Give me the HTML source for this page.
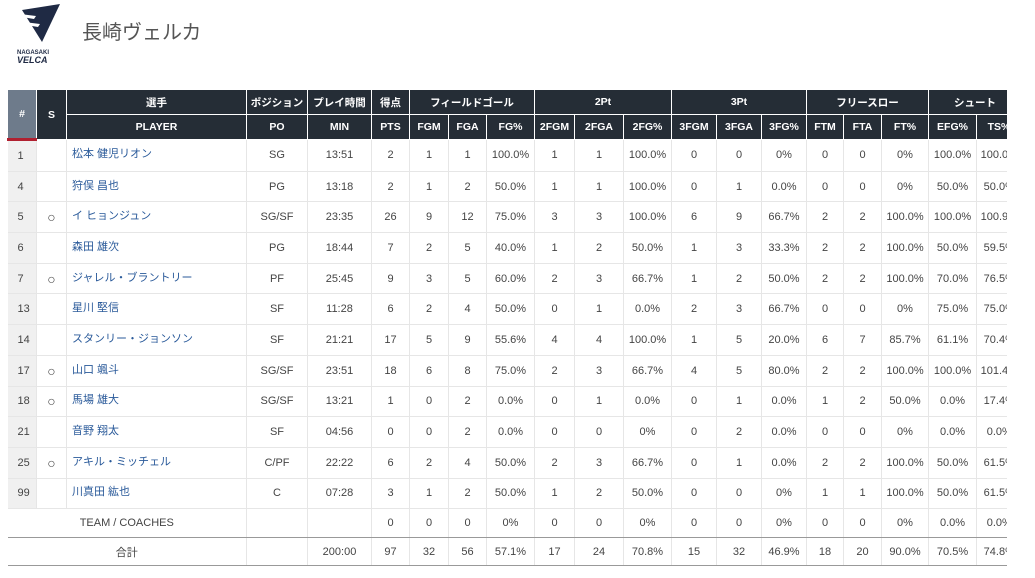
<!DOCTYPE html>
<html><head><meta charset="utf-8">
<style>
body{margin:0;width:1035px;height:578px;overflow:hidden;background:#fff;font-family:"Liberation Sans","Noto Sans CJK JP",sans-serif;position:relative}
#title{position:absolute;left:82px;top:16px;font-size:20px;color:#555;font-weight:normal;margin:0}
#logo{position:absolute;left:16px;top:4px}
#wrap{position:absolute;left:7px;top:90px;width:1000px;height:488px;overflow:hidden}
table{border-collapse:collapse;table-layout:fixed;font-size:11px;color:#444;width:1014px}
th{background:#252d36;color:#fff;font-weight:bold;font-size:10.5px;height:24px;padding:0;border:1px solid #fff;border-top:none;text-align:center;white-space:nowrap;overflow:hidden}
td{height:29.7px;padding:0;text-align:center;border-left:1px solid #e6e6e6;border-bottom:1px solid #e6e6e6;white-space:nowrap;overflow:hidden}
td.num{background:#f0f0f0;text-align:left;padding-left:10px;border-left:none}
td.name{text-align:left;padding-left:5px;color:#2a5a9a;padding-bottom:4px;height:25.7px}
td.st{font-size:14px}
th.hash{background:#6e7b8b;border-bottom:3px solid #b02030}
tr.foot td{border-bottom:1px solid #999;height:27.5px}
tr.first td{border-top:1px solid #999}
</style></head><body>
<svg id="logo" width="50" height="60" viewBox="0 0 50 60">
<path d="M6 6 L44 0 L26 38 Z" fill="#1f2a44"/>
<path d="M4 10 L20 12 L18 15 L6 13 Z M8 18 L24 20 L22 23 L10 21Z" fill="#fff"/>
<text x="1" y="50" font-size="6" font-weight="bold" fill="#1f2a44" font-family="Liberation Sans">NAGASAKI</text>
<text x="1" y="59" font-size="9" font-weight="bold" font-style="italic" fill="#1f2a44" font-family="Liberation Sans">VELCA</text>
</svg>
<h1 id="title">長崎ヴェルカ</h1>
<div id="wrap">
<table id="box">
<colgroup><col style="width:29px"><col style="width:30px"><col style="width:180px"><col style="width:61px"><col style="width:64px"><col style="width:38px"><col style="width:39px"><col style="width:38px"><col style="width:48px"><col style="width:40px"><col style="width:49px"><col style="width:48px"><col style="width:45px"><col style="width:45px"><col style="width:45px"><col style="width:37px"><col style="width:38px"><col style="width:47px"><col style="width:48px"><col style="width:45px"></colgroup>
<thead>
<tr><th rowspan="2" class="hash">#</th><th rowspan="2">S</th><th>選手</th><th>ポジション</th><th>プレイ時間</th><th>得点</th><th colspan="3">フィールドゴール</th><th colspan="3">2Pt</th><th colspan="3">3Pt</th><th colspan="3">フリースロー</th><th colspan="2">シュート</th></tr>
<tr id="hdr2"></tr>
</thead>
<tbody id="body"></tbody>
</table>
</div>
<script>
const cols=["PLAYER","PO","MIN","PTS","FGM","FGA","FG%","2FGM","2FGA","2FG%","3FGM","3FGA","3FG%","FTM","FTA","FT%","EFG%","TS%"];
const nums=["1","4","5","6","7","13","14","17","18","21","25","99"];
const starters=["","","○","","○","","","○","○","","○",""];
const names=["松本 健児リオン","狩俣 昌也","イ ヒョンジュン","森田 雄次","ジャレル・ブラントリー","星川 堅信","スタンリー・ジョンソン","山口 颯斗","馬場 雄大","音野 翔太","アキル・ミッチェル","川真田 紘也"];
const stats=[
["SG","13:51","2","1","1","100.0%","1","1","100.0%","0","0","0%","0","0","0%","100.0%","100.0%"],
["PG","13:18","2","1","2","50.0%","1","1","100.0%","0","1","0.0%","0","0","0%","50.0%","50.0%"],
["SG/SF","23:35","26","9","12","75.0%","3","3","100.0%","6","9","66.7%","2","2","100.0%","100.0%","100.9%"],
["PG","18:44","7","2","5","40.0%","1","2","50.0%","1","3","33.3%","2","2","100.0%","50.0%","59.5%"],
["PF","25:45","9","3","5","60.0%","2","3","66.7%","1","2","50.0%","2","2","100.0%","70.0%","76.5%"],
["SF","11:28","6","2","4","50.0%","0","1","0.0%","2","3","66.7%","0","0","0%","75.0%","75.0%"],
["SF","21:21","17","5","9","55.6%","4","4","100.0%","1","5","20.0%","6","7","85.7%","61.1%","70.4%"],
["SG/SF","23:51","18","6","8","75.0%","2","3","66.7%","4","5","80.0%","2","2","100.0%","100.0%","101.4%"],
["SG/SF","13:21","1","0","2","0.0%","0","1","0.0%","0","1","0.0%","1","2","50.0%","0.0%","17.4%"],
["SF","04:56","0","0","2","0.0%","0","0","0%","0","2","0.0%","0","0","0%","0.0%","0.0%"],
["C/PF","22:22","6","2","4","50.0%","2","3","66.7%","0","1","0.0%","2","2","100.0%","50.0%","61.5%"],
["C","07:28","3","1","2","50.0%","1","2","50.0%","0","0","0%","1","1","100.0%","50.0%","61.5%"]];
const team=["","","0","0","0","0%","0","0","0%","0","0","0%","0","0","0%","0.0%","0.0%"];
const total=["","200:00","97","32","56","57.1%","17","24","70.8%","15","32","46.9%","18","20","90.0%","70.5%","74.8%"];
const h2=document.getElementById('hdr2');
cols.forEach(c=>{const th=document.createElement('th');th.textContent=c;


h2.appendChild(th);});
const tb=document.getElementById('body');
function cell(tr,txt,cls,nm,inter){const td=document.createElement('td');td.textContent=txt;if(cls)td.className=cls;


tr.appendChild(td);return td;}
nums.forEach((n,i)=>{const tr=document.createElement('tr');


cell(tr,n,'num','jersey-number',false);
cell(tr,starters[i],'st','starter-mark',false);
cell(tr,names[i],'name','player-name-link',true);
stats[i].forEach((v,j)=>cell(tr,v,'','stat-'+cols[j+1].toLowerCase().replace('%','-pct'),false));
tb.appendChild(tr);});
[["TEAM / COACHES",team,'team-row'],["合計",total,'total-row']].forEach(([lab,arr,nm],k)=>{
const tr=document.createElement('tr');tr.className='foot'+(k==0?' first':'');


const td=cell(tr,lab,'','row-label',false);td.colSpan=3;td.style.borderLeft='none';
arr.forEach((v,j)=>cell(tr,v,'','stat-'+cols[j+1].toLowerCase().replace('%','-pct'),false));
tb.appendChild(tr);});
</script>
</body></html>
